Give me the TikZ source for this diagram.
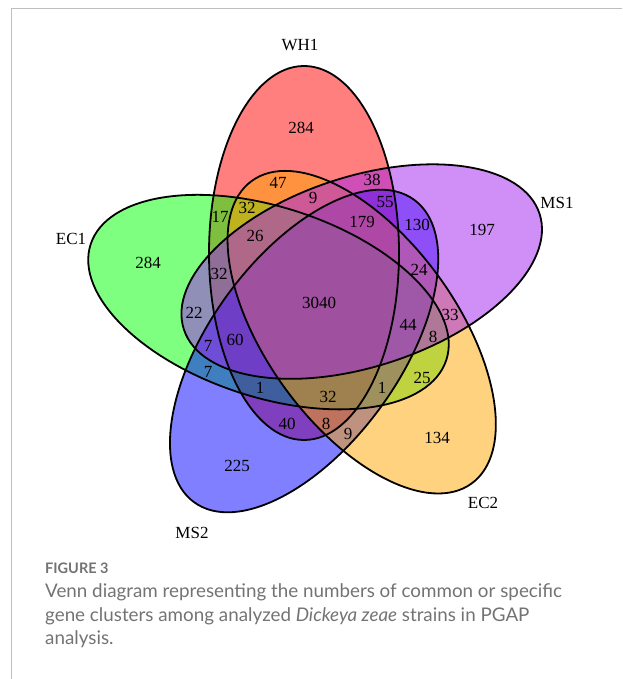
\documentclass[tikz,border=0pt]{standalone}
\usepackage{fontspec}
\setmainfont{Liberation Serif}
\newfontfamily\capfont{Lato}
\definecolor{vred}{RGB}{255,0,0}
\definecolor{vgreen}{RGB}{0,255,0}
\definecolor{vblue}{RGB}{0,0,255}
\definecolor{vorange}{RGB}{255,165,0}
\definecolor{vpurple}{RGB}{160,32,240}
\definecolor{capgray}{RGB}{115,115,115}
\definecolor{framegray}{RGB}{190,190,190}
\tikzset{
  venncount/.style={inner sep=0pt, font=\fontsize{17}{20}\selectfont},
  setlabel/.style={inner sep=0pt, font=\fontsize{17}{20}\selectfont},
  captext/.style={inner sep=0pt, anchor=base west, text=capgray, font=\capfont\fontsize{18.8}{22}\selectfont},
}
\begin{document}
\begin{tikzpicture}[x=1pt, y=1pt]
\useasboundingbox (0,0) rectangle (622,679);
\draw[framegray, line width=1pt] (622,670.5) -- (11.5,670.5) -- (11.5,0);
\coordinate (cWH) at (304,426);
\coordinate (cEC1) at (268.5,376.9);
\coordinate (cMS2) at (304.1,328);
\coordinate (cEC2) at (361.7,346.8);
\coordinate (cMS1) at (361.7,407.4);
\fill[vred, fill opacity=0.5, rotate around={90:(cWH)}] (cWH) ellipse [x radius=187, y radius=95];
\fill[vgreen, fill opacity=0.5, rotate around={162:(cEC1)}] (cEC1) ellipse [x radius=187, y radius=95];
\fill[vblue, fill opacity=0.5, rotate around={-126:(cMS2)}] (cMS2) ellipse [x radius=187, y radius=95];
\fill[vorange, fill opacity=0.5, rotate around={-54:(cEC2)}] (cEC2) ellipse [x radius=187, y radius=95];
\fill[vpurple, fill opacity=0.5, rotate around={18:(cMS1)}] (cMS1) ellipse [x radius=187, y radius=95];
\draw[line width=1.8pt, rotate around={90:(cWH)}] (cWH) ellipse [x radius=187, y radius=95];
\draw[line width=1.8pt, rotate around={162:(cEC1)}] (cEC1) ellipse [x radius=187, y radius=95];
\draw[line width=1.8pt, rotate around={-126:(cMS2)}] (cMS2) ellipse [x radius=187, y radius=95];
\draw[line width=1.8pt, rotate around={-54:(cEC2)}] (cEC2) ellipse [x radius=187, y radius=95];
\draw[line width=1.8pt, rotate around={18:(cMS1)}] (cMS1) ellipse [x radius=187, y radius=95];
\node[setlabel] (lWH) at (300,634) {WH1};
\node[setlabel] (lMS1) at (557,476) {MS1};
\node[setlabel] (lEC2) at (483,176) {EC2};
\node[setlabel] (lMS2) at (192,146) {MS2};
\node[setlabel] (lEC1) at (71,440) {EC1};
\node[venncount] (nWH) at (301,551) {284};
\node[venncount] (nMS1) at (482,449) {197};
\node[venncount] (nEC2) at (437,241) {134};
\node[venncount] (nMS2) at (237,213) {225};
\node[venncount] (nEC1) at (148,416) {284};
\node[venncount] (n47) at (278,496) {47};
\node[venncount] (n38) at (372,499) {38};
\node[venncount] (n9a) at (313,481) {9};
\node[venncount] (n55) at (385,477) {55};
\node[venncount] (n17) at (220,462) {17};
\node[venncount] (n32a) at (247,471) {32};
\node[venncount] (n179) at (362,457) {179};
\node[venncount] (n130) at (417,454) {130};
\node[venncount] (n26) at (255,443) {26};
\node[venncount] (n32b) at (219,405) {32};
\node[venncount] (n24) at (419,409) {24};
\node[venncount] (n3040) at (319,376) {3040};
\node[venncount] (n22) at (194,366) {22};
\node[venncount] (n33) at (450,364) {33};
\node[venncount] (n44) at (408,354) {44};
\node[venncount] (n8a) at (433,342) {8};
\node[venncount] (n7a) at (208,333) {7};
\node[venncount] (n60) at (235,339) {60};
\node[venncount] (n7b) at (208,307) {7};
\node[venncount] (n1a) at (260,291) {1};
\node[venncount] (n32c) at (328,282) {32};
\node[venncount] (n1b) at (382,291) {1};
\node[venncount] (n25) at (422,301) {25};
\node[venncount] (n40) at (287,255) {40};
\node[venncount] (n8b) at (326,255) {8};
\node[venncount] (n9b) at (348,245) {9};
\node[captext, font=\capfont\bfseries\fontsize{14.5}{17}\selectfont] (fig) at (45,105) {FIGURE 3};
\node[captext] (cap1) at (45,81) {Venn diagram representing the numbers of common or specific};
\node[captext] (cap2) at (45,57.5) {gene clusters among analyzed \textit{Dickeya zeae} strains in PGAP};
\node[captext] (cap3) at (45,34) {analysis.};
\end{tikzpicture}
\end{document}
